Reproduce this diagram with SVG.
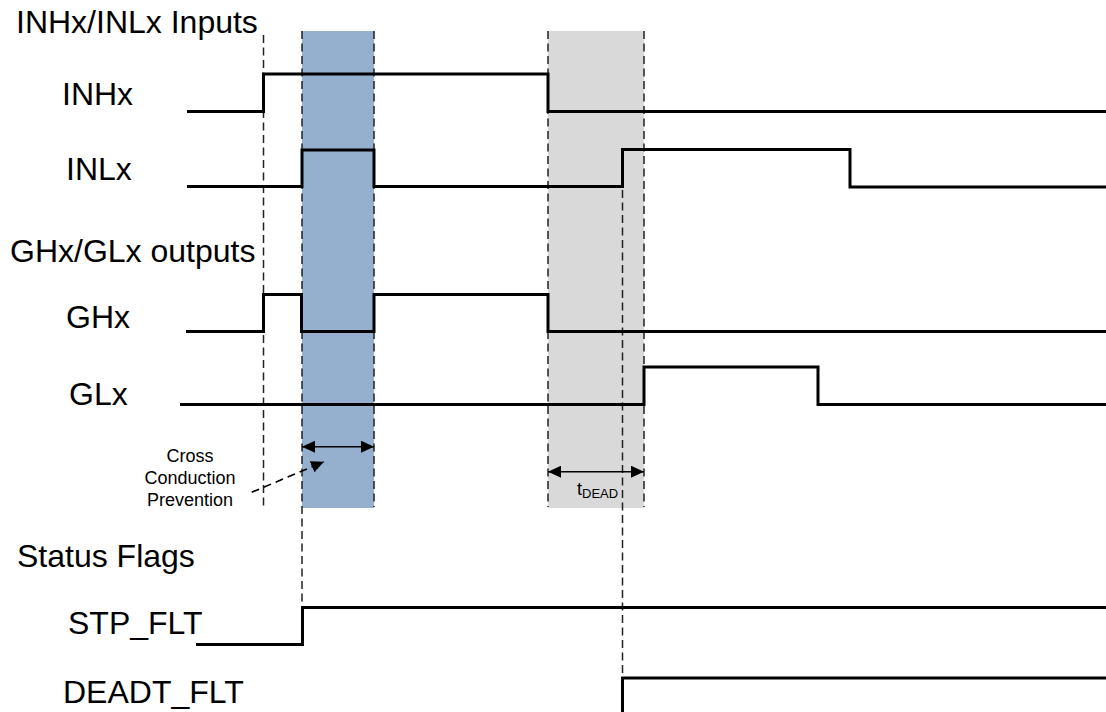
<svg xmlns="http://www.w3.org/2000/svg" width="1106" height="712" viewBox="0 0 1106 712">
<style>
.lbl{font-family:"Liberation Sans",Arial,sans-serif;font-size:32px;fill:#000}
.sm{font-family:"Liberation Sans",Arial,sans-serif;font-size:18px;fill:#000}
.sig{fill:none;stroke:#000;stroke-width:3;stroke-linejoin:miter}
.dash{fill:none;stroke:#222;stroke-width:1.5;stroke-dasharray:8 4.5}
.dim{fill:none;stroke:#000;stroke-width:1.6}
</style>
<defs>
<marker id="ah" viewBox="0 0 13 12" refX="13" refY="6" markerWidth="13" markerHeight="12" markerUnits="userSpaceOnUse" orient="auto-start-reverse">
<path d="M0,0 L13,6 L0,12 Z" fill="#000"/>
</marker>
</defs>
<rect width="1106" height="712" fill="#fff"/>
<g id="bands">
<rect x="302" y="31" width="72" height="477" fill="#95AFCF"/>
<rect x="548" y="31" width="96" height="477" fill="#D9D9D9"/>
</g>
<g id="labels">
<text class="lbl" x="16" y="33">INHx/INLx Inputs</text>
<text class="lbl" x="62" y="105">INHx</text>
<text class="lbl" x="66" y="180">INLx</text>
<text class="lbl" x="10" y="262">GHx/GLx outputs</text>
<text class="lbl" x="66" y="328">GHx</text>
<text class="lbl" x="69" y="405">GLx</text>
<text class="lbl" x="17" y="567">Status Flags</text>
<text class="lbl" x="68" y="634">STP_FLT</text>
<text class="lbl" x="63" y="703">DEADT_FLT</text>
</g>
<g id="guides">
<line class="dash" x1="263.5" y1="35" x2="263.5" y2="507"/>
<line class="dash" x1="302" y1="31" x2="302" y2="606"/>
<line class="dash" x1="374" y1="31" x2="374" y2="507"/>
<line class="dash" x1="548" y1="31" x2="548" y2="507"/>
<line class="dash" x1="644" y1="31" x2="644" y2="507"/>
<line class="dash" x1="622.5" y1="190" x2="622.5" y2="677"/>
</g>
<g id="INHx">
<polyline class="sig" points="187,111.5 263.5,111.5 263.5,74 548,74 548,111.5 1106,111.5"/>
</g>
<g id="INLx">
<polyline class="sig" points="187,186.5 302,186.5 302,150 374,150 374,186.5 622.5,186.5 622.5,149.5 850,149.5 850,187 1106,187"/>
</g>
<g id="GHx">
<polyline class="sig" points="186,331.5 263.5,331.5 263.5,294.5 301.5,294.5 301.5,331.5 374,331.5 374,294.5 548,294.5 548,331.5 1106,331.5"/>
</g>
<g id="GLx">
<polyline class="sig" points="180,404.5 644,404.5 644,367 818,367 818,404.5 1106,404.5"/>
</g>
<g id="STP_FLT">
<polyline class="sig" points="196,644.5 302.5,644.5 302.5,607.5 1106,607.5"/>
</g>
<g id="DEADT_FLT">
<polyline class="sig" points="622.5,712 622.5,678 1106,678"/>
</g>
<g id="annotations">
<line class="dim" x1="302" y1="446.7" x2="374" y2="446.7" marker-start="url(#ah)" marker-end="url(#ah)"/>
<line class="dim" x1="548" y1="471.7" x2="644" y2="471.7" marker-start="url(#ah)" marker-end="url(#ah)"/>
<line class="dim" x1="251.7" y1="492.3" x2="324" y2="461.7" stroke-dasharray="8 5" marker-end="url(#ah)"/>
<text class="sm" x="190" y="462" text-anchor="middle">Cross</text>
<text class="sm" x="190" y="484" text-anchor="middle">Conduction</text>
<text class="sm" x="190" y="506" text-anchor="middle">Prevention</text>
<text class="sm" x="577" y="495">t<tspan font-size="13" dy="3">DEAD</tspan></text>
</g>
</svg>
